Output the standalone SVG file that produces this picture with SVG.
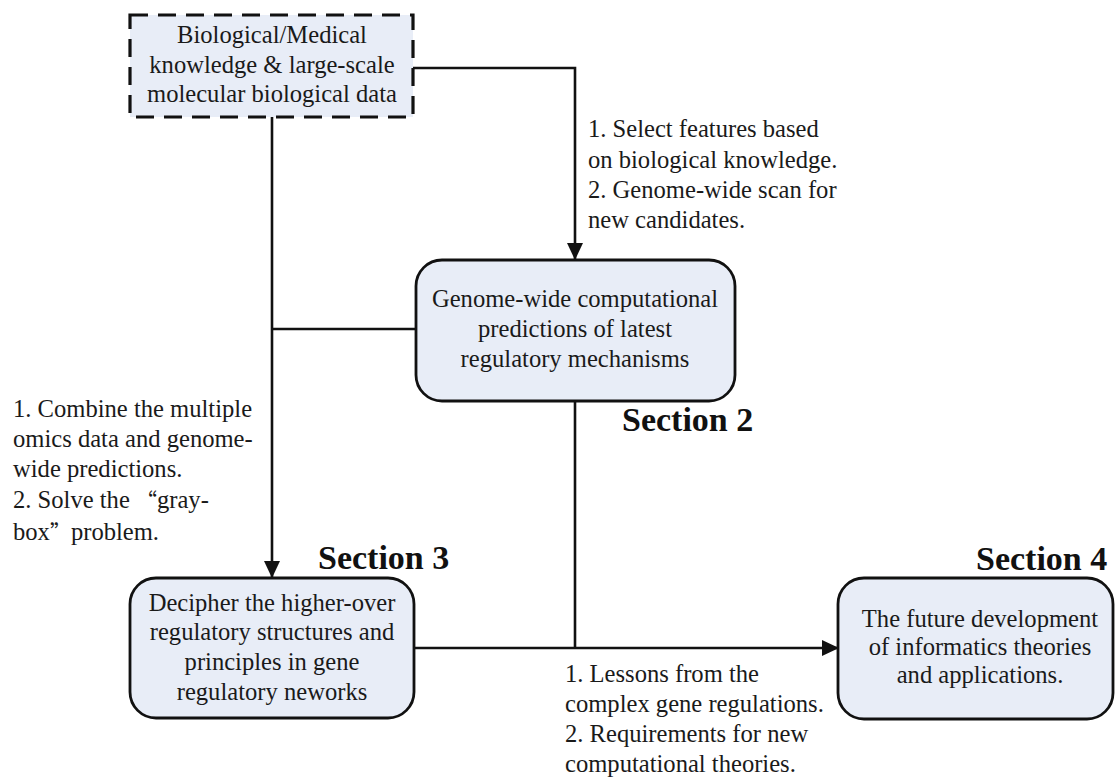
<svg xmlns="http://www.w3.org/2000/svg" width="1115" height="778" viewBox="0 0 1115 778">
<style>
.box{fill:#e8edf7;stroke:#111;stroke-width:2.8}
.dash{stroke-width:3.2;stroke-dasharray:18 10}
.t{font-family:"Liberation Serif","Times New Roman",serif;font-size:24.6px;fill:#1a1a1a}
.c{text-anchor:middle}
.q{font-family:"Noto Sans CJK SC",sans-serif;font-size:21px}
.sec{font-family:"Liberation Serif","Times New Roman",serif;font-size:34px;font-weight:bold;fill:#111}
.ln{fill:none;stroke:#111;stroke-width:2.6}
</style>
<defs>
<marker id="arr" markerWidth="17" markerHeight="16" refX="16" refY="8" orient="auto" markerUnits="userSpaceOnUse" viewBox="0 0 17 16">
<path d="M0,0 L17,8 L0,16 z" fill="#111"/>
</marker>
</defs>
<rect width="1115" height="778" fill="#fff"/>
<g id="connectors">
<path class="ln" d="M413,68 H575 V259" marker-end="url(#arr)"/>
<path class="ln" d="M272,117 V577" marker-end="url(#arr)"/>
<path class="ln" d="M272,329 H416"/>
<path class="ln" d="M575,401 V648"/>
<path class="ln" d="M414,648 H838" marker-end="url(#arr)"/>
</g>
<g id="node-data">
<rect class="box dash" x="130" y="15" width="283" height="102"/>
<text class="t c" x="272" y="43">Biological/Medical</text>
<text class="t c" x="272" y="73">knowledge &amp; large-scale</text>
<text class="t c" x="272" y="102">molecular biological data</text>
</g>
<g id="node-genome">
<rect class="box" x="416" y="260" width="319" height="141" rx="26"/>
<text class="t c" x="575" y="307">Genome-wide computational</text>
<text class="t c" x="575" y="337">predictions of latest</text>
<text class="t c" x="575" y="367">regulatory mechanisms</text>
</g>
<g id="node-decipher">
<rect class="box" x="130" y="578" width="284" height="140" rx="26"/>
<text class="t c" x="272" y="611">Decipher the higher-over</text>
<text class="t c" x="272" y="640">regulatory structures and</text>
<text class="t c" x="272" y="670">principles in gene</text>
<text class="t c" x="272" y="700">regulatory neworks</text>
</g>
<g id="node-future">
<rect class="box" x="838" y="578" width="275" height="141" rx="26"/>
<text class="t c" x="980" y="627">The future development</text>
<text class="t c" x="980" y="655">of informatics theories</text>
<text class="t c" x="980" y="683">and applications.</text>
</g>
<g id="labels">
<text class="t" x="588" y="137">1. Select features based</text>
<text class="t" x="588" y="168">on biological knowledge.</text>
<text class="t" x="588" y="198">2. Genome-wide scan for</text>
<text class="t" x="588" y="228">new candidates.</text>
<text class="t" x="13" y="417">1. Combine the multiple</text>
<text class="t" x="13" y="447">omics data and genome-</text>
<text class="t" x="13" y="477">wide predictions.</text>
<text class="t" x="13" y="508">2. Solve the <tspan class="q">“</tspan>gray-</text>
<text class="t" x="13" y="540">box<tspan class="q">”</tspan>problem.</text>
<text class="t" x="565" y="682">1. Lessons from the</text>
<text class="t" x="565" y="712">complex gene regulations.</text>
<text class="t" x="565" y="742">2. Requirements for new</text>
<text class="t" x="565" y="772">computational theories.</text>
<text class="sec" x="622" y="431">Section 2</text>
<text class="sec" x="318" y="569">Section 3</text>
<text class="sec" x="976" y="570">Section 4</text>
</g>
</svg>
